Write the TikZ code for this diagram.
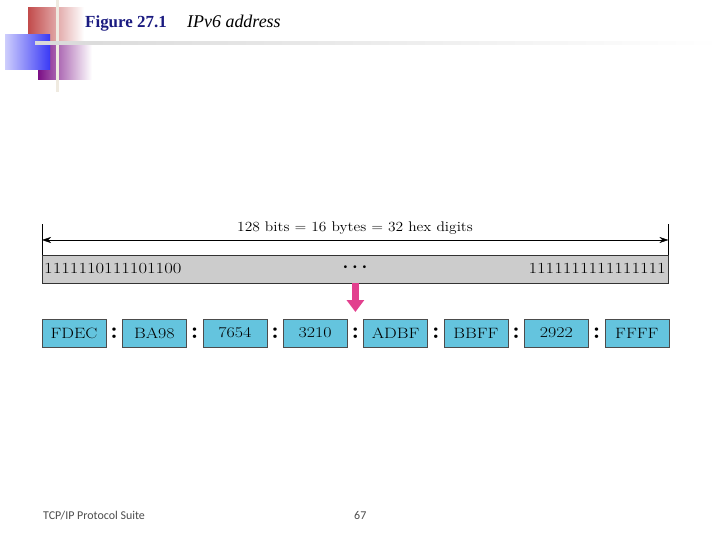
\documentclass[tikz,border=0pt]{standalone}
\usepackage{fontspec}
\usepackage{graphicx}
\usetikzlibrary{arrows.meta}
\newfontfamily\titlefont{Liberation Serif}
\newfontfamily\footfont{Carlito}
\newcommand{\stretchtext}[2]{\scalebox{#1}[1]{#2}}
\definecolor{boxblue}{HTML}{64C4DE}
\definecolor{bargray}{HTML}{CCCCCC}
\definecolor{arrowpink}{HTML}{E2408E}
\definecolor{titleblue}{HTML}{1A1A80}
\definecolor{logored}{HTML}{C24B4B}
\definecolor{logopurple}{HTML}{7B0F86}
\definecolor{logoblue}{HTML}{3A3AF5}
\definecolor{logoline}{HTML}{EFEAE0}
\tikzset{
  hexbox/.style={draw=black!70, fill=boxblue, minimum width=64bp, minimum height=28bp, inner sep=0pt, font=\fontsize{15}{15}\selectfont},
  colonmark/.style={inner sep=0pt, anchor=base, font=\fontsize{24}{24}\selectfont\bfseries},
  bits/.style={inner sep=0pt, font=\fontsize{15.5}{16}\selectfont},
  footer/.style={anchor=base west, inner sep=0pt, text=black!70, font=\footfont\fontsize{12}{12}\selectfont},
}
\begin{document}
\begin{tikzpicture}[x=1bp, y=-1bp, >=stealth, thin]
	\useasboundingbox (0,0) rectangle (720,540);
	
	% 1. logo squares in the corner
	\shade[left color=logored, middle color=logored, right color=white] (28,8) rectangle (84,42);
	\shade[left color=logopurple, middle color=logopurple, right color=white] (38,43) rectangle (92,80);
	\shade[left color=logoblue!25, right color=logoblue] (5,35) rectangle (50,70);
	\fill[logoline] (56,0) rectangle (59,92);
	\shade[left color=black!15, right color=white] (35,42) rectangle (720,44.5);
	
	% 2. title
	\node[anchor=base west, inner sep=0pt, text=titleblue, font=\titlefont\bfseries\fontsize{17}{17}\selectfont] (figno) at (85,28) {Figure 27.1};
	\node[anchor=base west, inner sep=0pt, font=\titlefont\itshape\fontsize{18}{18}\selectfont] (figtitle) at (187,28) {IPv6 address};
	
	% 3. the 128-bit strip
	\node[draw=black!80, fill=bargray, minimum width=626bp, minimum height=28bp, inner sep=0pt, anchor=north west] (bar) at (42,255) {};
	\draw (bar.north west) -- ++(0,-31) coordinate (tickL);
	\draw (bar.north east) -- ++(0,-31) coordinate (tickR);
	\draw[{Stealth[length=9bp,width=6bp]}-{Stealth[length=9bp,width=6bp]}] ([yshift=15bp]bar.north west) -- ([yshift=15bp]bar.north east);
	\node[anchor=base, inner sep=0pt, font=\fontsize{14}{14}\selectfont] (widthlabel) at (355,232) {\stretchtext{1.11}{128 bits = 16 bytes = 32 hex digits}};
	
	\node[bits, anchor=base west] (bitsleft) at (44,274) {\stretchtext{1.21}{1111110111101100}};
	\node[bits, anchor=base east] (bitsright) at (666,274) {\stretchtext{1.21}{1111111111111111}};
	\node[inner sep=0pt, font=\fontsize{10}{10}\selectfont] (dots) at (355,268) {\textbullet\,\textbullet\,\textbullet};
	
	% 4. the eight hex groups
	\foreach \hex [count=\i] in {FDEC,BA98,7654,3210,ADBF,BBFF,2922,FFFF}
		\node[hexbox] (box\i) at ({74+80.4*(\i-1)},333) {\stretchtext{1.2}{\hex}};
	\foreach \i in {1,...,7}
		\node[colonmark] (colon\i) at ({33.8+80.4*\i},338) {:};
	
	% 5. pink arrow down to the groups
	\coordinate (arrowend) at (355.4,312);
	\draw[arrowpink, line width=7bp, -{Triangle[width=17bp, length=12bp]}] (bar.south -| arrowend) -- (arrowend);
	
	% 6. footer
	\node[footer] (suite) at (43,519) {TCP/IP Protocol Suite};
	\node[footer] (pageno) at (354,519) {67};
\end{tikzpicture}
\end{document}
